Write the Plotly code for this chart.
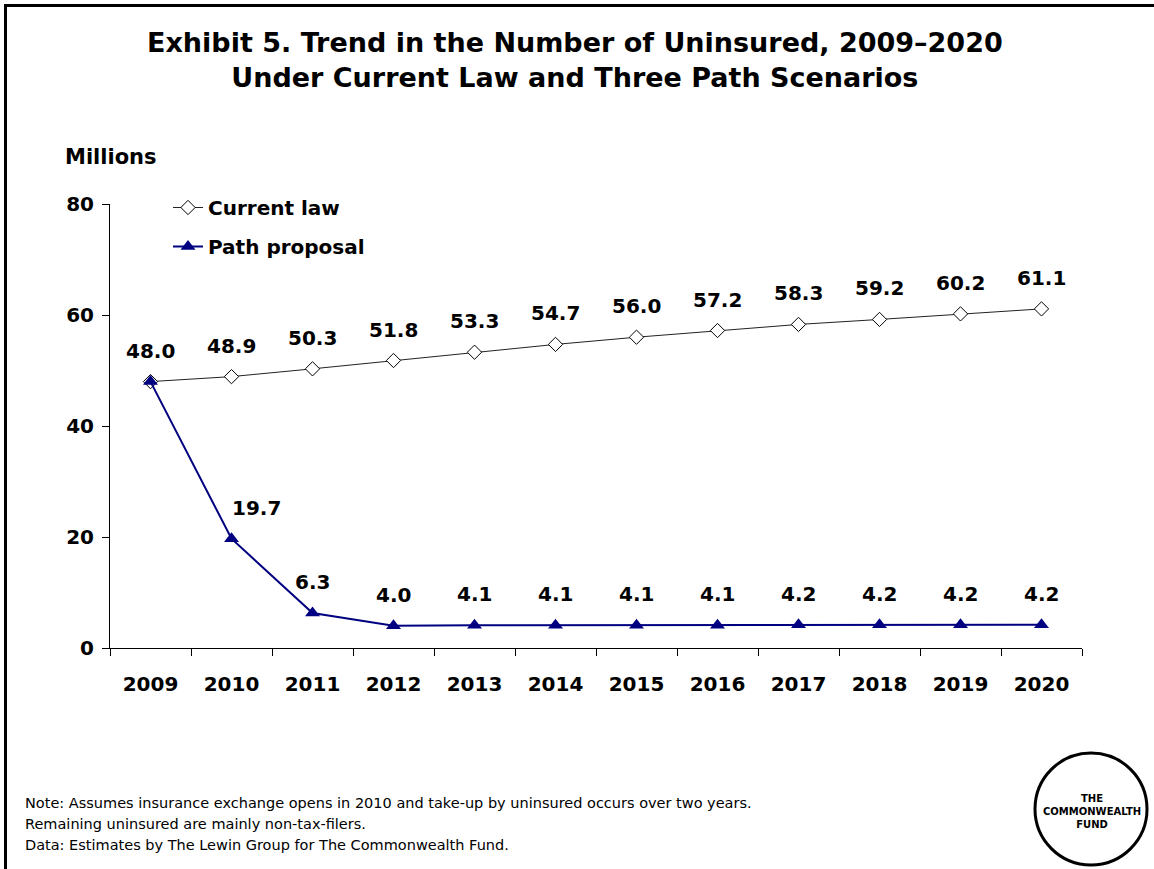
import plotly.graph_objects as go

years = ["2009", "2010", "2011", "2012", "2013", "2014", "2015", "2016", "2017", "2018", "2019", "2020"]
current_law = [48.0, 48.9, 50.3, 51.8, 53.3, 54.7, 56.0, 57.2, 58.3, 59.2, 60.2, 61.1]
path_proposal = [48.0, 19.7, 6.3, 4.0, 4.1, 4.1, 4.1, 4.1, 4.2, 4.2, 4.2, 4.2]
y_ticks = [0, 20, 40, 60, 80]
note_lines = [
    "Note: Assumes insurance exchange opens in 2010 and take-up by uninsured occurs over two years.",
    "Remaining uninsured are mainly non-tax-filers.",
    "Data: Estimates by The Lewin Group for The Commonwealth Fund.",
]

W, H = 1154, 869
L, R, T, B = 110, 1082, 204, 648  # plot area in pixels


def px(x):
    return (x - L) / (R - L)


def py(y):
    return (B - y) / (B - T)


FONT = "DejaVu Sans, Arial, sans-serif"
NAVY = "#000080"

fig = go.Figure()
fig.add_trace(go.Scatter(
    x=years, y=current_law, name="Current law", mode="lines+markers",
    line=dict(color="#222222", width=1),
    marker=dict(symbol="diamond", size=11, color="white", line=dict(color="black", width=1)),
    legendgroup="a",
))
fig.add_trace(go.Scatter(
    x=years, y=path_proposal, name="Path proposal", mode="lines+markers",
    line=dict(color=NAVY, width=2),
    marker=dict(symbol="triangle-up", size=13, color=NAVY),
    legendgroup="b",
))

annotations = []
lab_font = dict(family=FONT, size=20, color="black", weight="bold")
for i, v in enumerate(current_law):
    annotations.append(dict(x=i, y=v, xref="x", yref="y", text=f"{v:.1f}", showarrow=False,
                            yshift=31, font=lab_font))
for i, v in enumerate(path_proposal):
    if v == current_law[i]:
        continue
    annotations.append(dict(x=i, y=v, xref="x", yref="y", text=f"{v:.1f}", showarrow=False,
                            yshift=31, xshift=25 if i == 1 else 0, font=lab_font))

# Title
annotations.append(dict(
    x=px(575), y=py(60), xref="paper", yref="paper", showarrow=False,
    text="Exhibit 5. Trend in the Number of Uninsured, 2009\u20132020<br>Under Current Law and Three Path Scenarios",
    font=dict(family=FONT, size=27, color="black", weight="bold"), align="center",
    xanchor="center", yanchor="middle",
))
# Axis title
annotations.append(dict(
    x=px(63), y=py(157), xref="paper", yref="paper", showarrow=False, text="Millions",
    font=dict(family=FONT, size=21, color="black", weight="bold"), xanchor="left", yanchor="middle",
))
# Notes
for k, line in enumerate(note_lines):
    annotations.append(dict(
        x=px(23), y=py(803 + 21 * k), xref="paper", yref="paper", showarrow=False, align="left",
        text=line, font=dict(family=FONT, size=14.5, color="black"), xanchor="left", yanchor="middle",
    ))
# Logo text
annotations.append(dict(
    x=px(1092), y=py(811), xref="paper", yref="paper", showarrow=False, align="center",
    text="THE<br>COMMONWEALTH<br>FUND",
    font=dict(family=FONT, size=10, color="black", weight="bold"), xanchor="center", yanchor="middle",
))

shapes = [
    dict(type="rect", xref="paper", yref="paper", x0=px(5.5), x1=px(1170), y0=py(5.5), y1=py(900),
         line=dict(color="black", width=3), fillcolor="rgba(0,0,0,0)"),
    dict(type="circle", xref="paper", yref="paper", x0=px(1035), x1=px(1147), y0=py(865), y1=py(753),
         line=dict(color="black", width=3), fillcolor="white"),
]

fig.update_layout(
    width=W, height=H,
    margin=dict(l=L, r=W - R, t=T, b=H - B, pad=0),
    paper_bgcolor="white", plot_bgcolor="white",
    font=dict(family=FONT, color="black"),
    showlegend=True,
    legend=dict(x=px(168), y=py(188), xanchor="left", yanchor="top",
                font=dict(family=FONT, size=20, color="black", weight="bold"),
                traceorder="grouped", tracegroupgap=10, bgcolor="rgba(0,0,0,0)",
                itemwidth=30),
    annotations=annotations,
    shapes=shapes,
    xaxis=dict(type="category", tickson="boundaries", ticks="outside", ticklen=7,
               tickcolor="black", showline=True, linecolor="black", linewidth=1,
               showgrid=False, tickfont=dict(family=FONT, size=20, color="black", weight="bold"),
               ticklabelstandoff=18, range=[-0.5, 11.5]),
    yaxis=dict(range=[0, 80], tickvals=y_ticks, ticks="outside", ticklen=7, tickcolor="black",
               showline=True, linecolor="black", linewidth=1, showgrid=False, zeroline=False,
               ticklabelstandoff=4,
               tickfont=dict(family=FONT, size=20, color="black", weight="bold")),
)

fig.write_html("out.html", config={"displayModeBar": False},
               post_script="document.body.style.margin='0';")
